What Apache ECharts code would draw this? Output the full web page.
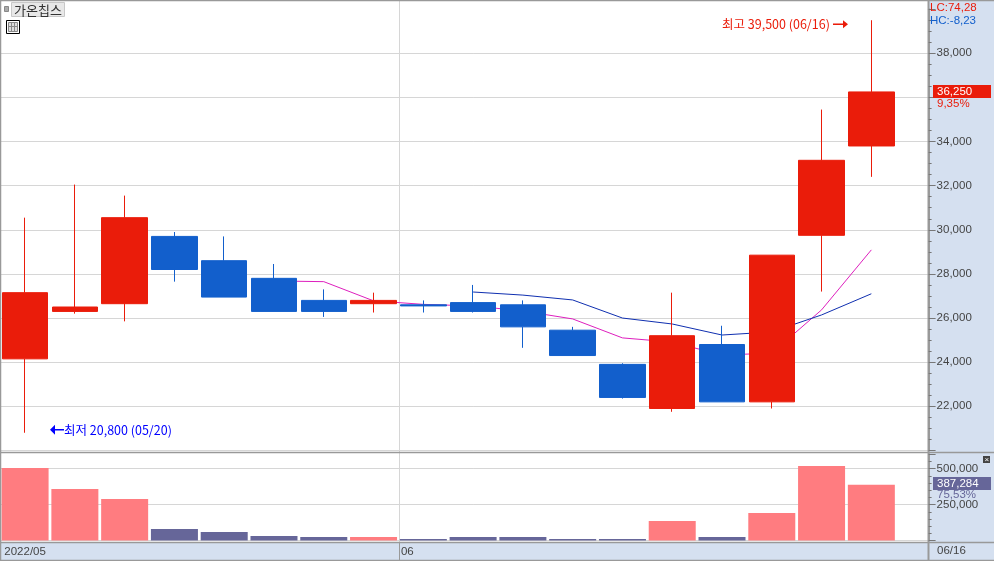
<!DOCTYPE html>
<html><head><meta charset="utf-8">
<style>html,body{margin:0;padding:0;background:#fff}#c{width:994px;height:561px}</style>
<script src="https://cdn.jsdelivr.net/npm/echarts@6/dist/echarts.min.js"></script>
</head><body><div id="c"></div>
<script>
const dates = ['05/20','05/23','05/24','05/25','05/26','05/27','05/30','05/31','06/02','06/03','06/07','06/08','06/09','06/10','06/13','06/14','06/15','06/16',''];
const monthLabels = {0:'2022/05', 8:'06'};
const opens  = [24150,26300,26650,29700,28600,27800,26800,26650,26600,26700,26600,25450,23900,21900,24800,22200,29750,33800];
const closes = [27150,26500,30550,28200,26950,26300,26300,26800,26550,26300,25600,24300,22400,25200,22200,28850,33150,36250];
const lows   = [20800,26200,25850,27650,26950,26300,26050,26250,26250,26250,24650,24300,22350,21750,22200,21900,27200,32400];
const highs  = [30550,32050,31550,29900,29700,28450,27300,27150,26800,27500,26800,25600,23950,27150,25650,28850,35450,39500];
const ma5  = ['-','-','-','-','-',27680,27650,26780,26620,26550,26320,25960,25100,24910,24320,24410,26370,29090];
const ma10 = ['-','-','-','-','-','-','-','-','-',27180,27040,26820,26000,25730,25230,25370,26140,27100];
const volumes = [504000,358000,289000,80000,60000,32000,25000,25000,11000,25000,25000,11000,11000,136000,25000,192000,518000,387284];
const titleText='가온칩스', lcText='LC:74,28', hcText='HC:-8,23', pricePct='9,35%', volPct='75,53%', lastDate='06/16';

const RED='#EA1C0A', BLUE='#125FCC', PANEL='#D5E0F0', FRAME='#999999', GRID='#D6D6D6', TXT='#444444', VOLUP='#FF7C80', VOLDN='#666699';
const FONT='"Liberation Sans","Noto Sans CJK KR",sans-serif', FS=11.5;
const fmt=v=>Number(v).toLocaleString('en-US');
const L=0.2, BAND=49.78, AXW=BAND*dates.length, OFF=-(L+AXW-928.6);

const chart=echarts.init(document.getElementById('c'),null,{renderer:'canvas'});
const yBase=(g,min,max,interval)=>({gridIndex:g,type:'value',min,max,interval,position:'right',offset:OFF,
  axisLine:{show:false},axisTick:{show:false},axisLabel:{show:false},
  splitLine:{show:true,showMaxLine:false,lineStyle:{color:GRID,width:1}}});
const yLab=(g,min,max,interval,minor)=>({gridIndex:g,type:'value',min,max,interval,position:'right',offset:OFF,z:10,
  axisLine:{show:true,onZero:false,lineStyle:{color:FRAME,width:2}},
  axisTick:{show:true,length:7,lineStyle:{color:'#777'}},
  minorTick:{show:true,splitNumber:minor,length:3,lineStyle:{color:'#777'}},
  axisLabel:{show:true,margin:8,showMinLabel:false,showMaxLabel:false,color:TXT,fontFamily:FONT,fontSize:FS,formatter:fmt},
  splitLine:{show:false}});
chart.setOption({
  animation:false,backgroundColor:'#fff',
  grid:[{left:L,top:9.2,width:AXW,height:441.2,containLabel:false},{left:L,top:454.2,width:AXW,height:86.4,containLabel:false}],
  xAxis:[
    {gridIndex:0,type:'category',data:dates,axisLine:{show:false},axisTick:{show:false},axisLabel:{show:false},splitLine:{show:false}},
    {gridIndex:1,type:'category',data:dates,axisLine:{show:false},axisTick:{show:false},splitLine:{show:false},
     axisLabel:{show:true,interval:(i)=>i in monthLabels,margin:5,color:TXT,fontFamily:FONT,fontSize:FS,hideOverlap:false,
       formatter:(v,i)=>i===8?'{m|'+monthLabels[i]+'}':monthLabels[i]||'',
       rich:{m:{padding:[0,32,0,0],color:TXT,fontFamily:FONT,fontSize:FS}}}}
  ],
  yAxis:[yBase(0,20000,40000,2000),yBase(1,0,600000,250000),yLab(0,20000,40000,2000,4),yLab(1,0,600000,250000,5)],
  series:[
    {type:'line',name:'MA5',xAxisIndex:0,yAxisIndex:0,data:ma5,z:1,showSymbol:false,symbol:'none',lineStyle:{color:'#DE1FBE',width:1}},
    {type:'line',name:'MA10',xAxisIndex:0,yAxisIndex:0,data:ma10,z:1,showSymbol:false,symbol:'none',lineStyle:{color:'#0F2FB0',width:1}},
    {type:'candlestick',name:'price',xAxisIndex:0,yAxisIndex:0,z:2,barWidth:46,
     data:opens.map((o,i)=>[o,closes[i],lows[i],highs[i]]),
     itemStyle:{color:RED,color0:BLUE,borderColor:RED,borderColor0:BLUE,borderWidth:1}},
    {type:'bar',name:'volume',xAxisIndex:1,yAxisIndex:1,z:2,barWidth:47,
     data:volumes.map((v,i)=>({value:v,itemStyle:{color:closes[i]>=opens[i]?VOLUP:VOLDN}}))}
  ]
});

const iLast=closes.length-1, hiVal=Math.max(...highs), loVal=Math.min(...lows);
const iHi=highs.indexOf(hiVal), iLo=lows.indexOf(loVal), iMonth=8;
const yPrice=v=>chart.convertToPixel({yAxisIndex:0},v);
const xCat=i=>chart.convertToPixel({xAxisIndex:0},i);
const xMonth=Math.round(xCat(iMonth)-BAND/2+1)+0.5;
const yHi=yPrice(hiVal)+4, yLo=yPrice(loVal)-3;
const rect=(x,y,w,h,fill,z,stroke)=>({type:'rect',shape:{x,y,width:w,height:h},style:{fill,stroke:stroke||null,lineWidth:1},z,silent:true});
const text=(x,y,t,fill,z,font)=>({type:'text',x,y,style:{text:t,fill,font:font||(FS+'px '+FONT),verticalAlign:'middle'},z,silent:true});
const line=(x1,y1,x2,y2,stroke,z,w)=>({type:'line',shape:{x1,y1,x2,y2},style:{stroke,lineWidth:w||1},z,silent:true});
const poly=(pts,fill,z)=>({type:'polygon',shape:{points:pts},style:{fill},z,silent:true});
const KR='12.5px "Noto Sans CJK KR",sans-serif';
chart.setOption({graphic:{elements:[
  rect(0,542,994,19,PANEL,-1),
  line(xMonth,1,xMonth,542,GRID,0,1),
  rect(929,0,65,542,PANEL,5),
  line(0,0.5,994,0.5,FRAME,6,1.5),
  line(0.5,0,0.5,561,FRAME,6,1.5),
  line(0,452.5,994,452.5,FRAME,6,1.5),
  line(0,542.5,994,542.5,FRAME,6,1.5),
  line(0,560.5,994,560.5,FRAME,6,1.5),
  line(928.5,0,928.5,561,FRAME,6,2),
  line(xMonth,542,xMonth,560,FRAME,6,1),
  // header
  rect(4.5,6.5,4,5,'#AAAAAA',7,'#888888'),
  rect(11.5,2.5,53,14,'#E8E8E8',7,'#C8C8C8'),
  text(14,10,titleText,'#333333',8,'13px "Noto Sans CJK KR",sans-serif'),
  rect(6.5,20.5,13,13,'#FFFFFF',7,'#000000'),
  rect(8.5,22.5,9,9,'#DDDDDD',7,'#888888'),
  line(11.5,23,11.5,31,'#888888',8), line(14.5,23,14.5,31,'#888888',8), line(9,26.5,17,26.5,'#888888',8),
  // right panel texts
  text(930,8,lcText,RED,12),
  text(930,21,hcText,BLUE,12),
  rect(933,98,58,11,PANEL,12),
  rect(933,85,58,13,RED,12),
  text(937,91.5,fmt(closes[iLast]),'#FFFFFF',13),
  text(937,103.5,pricePct,RED,13),
  rect(983,456,7,7,'#444444',12),
  text(984.5,459.5,'×','#FFFFFF',13,'8px "Liberation Sans",sans-serif'),
  rect(933,490,58,10,PANEL,12),
  rect(933,477,58,13,VOLDN,12),
  text(937,483.5,fmt(volumes[iLast]),'#FFFFFF',13),
  text(937,495,volPct,VOLDN,13),
  text(937,551,lastDate,TXT,6),
  // extremes
  text(722,yHi,'최고 '+fmt(hiVal)+' ('+dates[iHi]+')',RED,8,KR),
  line(833,yHi,844,yHi,RED,8,1.5),
  poly([[843,yHi-4],[848,yHi],[843,yHi+4]],RED,8),
  poly([[50,yLo],[55,yLo-5],[55,yLo+5]],'#0000FF',8),
  line(55,yLo,64,yLo,'#0000FF',8,1.5),
  text(64,yLo,'최저 '+fmt(loVal)+' ('+dates[iLo]+')','#0000FF',8,KR)
]}});
</script></body></html>
